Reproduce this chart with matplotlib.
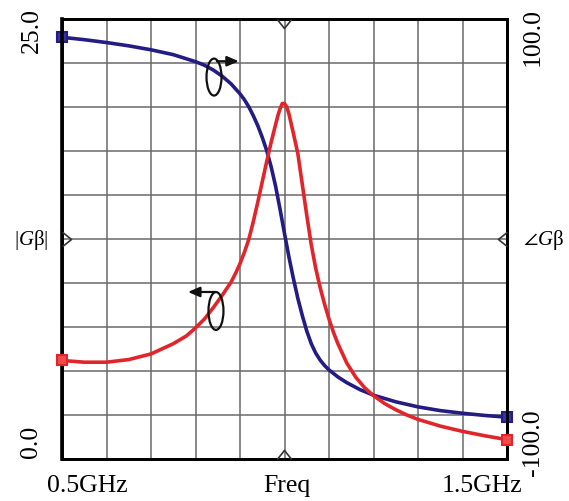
import matplotlib
matplotlib.use("Agg")
import matplotlib.pyplot as plt
from matplotlib.path import Path
from matplotlib.patches import Ellipse

plt.rcParams['font.family'] = ['Liberation Serif', 'DejaVu Serif']
plt.rcParams['mathtext.fontset'] = 'custom'
plt.rcParams['mathtext.rm'] = 'Liberation Serif'
plt.rcParams['mathtext.it'] = 'Liberation Serif:italic'

# ---- data ----
freq_mag = [0.50, 0.55, 0.60, 0.65, 0.70, 0.75, 0.78, 0.80, 0.82, 0.84, 0.86, 0.88,
            0.89, 0.90, 0.91, 0.92, 0.93, 0.94, 0.95, 0.96, 0.97, 0.98, 0.985, 0.99, 0.995,
            1.00, 1.005, 1.01, 1.02, 1.03, 1.04, 1.05, 1.06, 1.07, 1.08, 1.09, 1.10,
            1.11, 1.12, 1.14, 1.16, 1.18, 1.20, 1.225, 1.25, 1.275, 1.30, 1.35, 1.40,
            1.45, 1.50]
mag = [5.6, 5.5, 5.5, 5.65, 5.97, 6.55, 7.0, 7.45, 7.95, 8.6, 9.3, 10.05,
       10.55, 11.1, 11.75, 12.5, 13.5, 14.6, 15.75, 16.9, 18.0, 19.0, 19.5, 19.9, 20.2,
       20.2, 20.0, 19.6, 18.5, 17.35, 15.6, 13.85, 12.2, 10.85, 9.75, 8.8, 7.95,
       7.2, 6.55, 5.45, 4.65, 4.05, 3.6, 3.15, 2.8, 2.5, 2.25, 1.87, 1.57,
       1.32, 1.1]

freq_phase = [0.50, 0.55, 0.60, 0.65, 0.70, 0.75, 0.80, 0.82, 0.84, 0.86, 0.88, 0.90,
              0.91, 0.92, 0.93, 0.94, 0.95, 0.96, 0.97, 0.98, 0.99, 1.00, 1.01, 1.02,
              1.03, 1.04, 1.05, 1.06, 1.07, 1.08, 1.09, 1.10, 1.12, 1.14, 1.17, 1.20,
              1.25, 1.30, 1.35, 1.40, 1.45, 1.50]
phase = [91.7, 90.6, 89.3, 87.8, 86.0, 83.8, 80.6, 79.0, 76.8, 74.0, 70.5, 66.0,
         63.3, 60.0, 56.0, 51.5, 46.2, 40.2, 32.8, 24.0, 13.5, 2.5, -8.2, -18.0,
         -27.0, -34.8, -41.8, -47.5, -51.8, -55.0, -57.5, -59.5, -62.7, -65.3, -68.5, -71.0,
         -74.0, -76.3, -78.0, -79.2, -80.2, -81.0]

x_labels = ["0.5GHz", "Freq", "1.5GHz"]
left_labels = ["25.0", "0.0"]
right_labels = ["100.0", "-100.0"]

RED = "#e0262a"
BLUE = "#231c82"
GRID = "#6a6a6a"

fig = plt.figure(figsize=(5.69, 5.02), dpi=100)
ax2 = fig.add_axes([62/569, 42/502, 445/569, 440/502])
ax = ax2.twinx()
ax.set_zorder(ax2.get_zorder() + 1)
ax.patch.set_visible(False)

ax2.set_xlim(0.5, 1.5)
ax2.set_ylim(-100, 100)
ax.set_ylim(0, 25)
ax2.set_xticks([0.5 + 0.1 * i for i in range(11)])
ax2.set_yticks([-100 + 20 * i for i in range(11)])
ax2.grid(True, color=GRID, linewidth=1.1)
for a in (ax, ax2):
    a.tick_params(length=0, labelleft=False, labelright=False, labelbottom=False)
    for s in a.spines.values():
        s.set_linewidth(2.0)
        s.set_color("black")
ax.spines['left'].set_linewidth(2.6)
ax.set_yticks([])

# phase (blue) on right axis
ax2.plot(freq_phase, phase, color=BLUE, linewidth=2.6, solid_capstyle='round',
         solid_joinstyle='round',
         marker='s', markevery=[0, len(phase) - 1], markersize=7,
         markerfacecolor="#3a34a0", markeredgecolor=BLUE, markeredgewidth=1.5,
         clip_on=False, zorder=3)
# magnitude (red) on left axis
ax.plot(freq_mag, mag, color=RED, linewidth=2.6, solid_capstyle='round',
        solid_joinstyle='round',
        marker='s', markevery=[0, len(mag) - 1], markersize=7,
        markerfacecolor="#f04a4a", markeredgecolor=RED, markeredgewidth=1.5,
        clip_on=False, zorder=3)

# chevron markers at axis midpoints
def chevron(direction):
    base = [(0, -0.8), (1, 0), (0, 0.8)]
    if direction == 'right':
        v = base
    elif direction == 'left':
        v = [(-x, y) for x, y in base]
    elif direction == 'up':
        v = [(y, x) for x, y in base]
    else:
        v = [(y, -x) for x, y in base]
    return Path(v, [Path.MOVETO, Path.LINETO, Path.LINETO])

for pos, d in [((0, 0.5), 'right'), ((1, 0.5), 'left'), ((0.5, 0), 'up'), ((0.5, 1), 'down')]:
    ax.plot([pos[0]], [pos[1]], transform=ax.transAxes, marker=chevron(d), markersize=13,
            markerfacecolor='none', markeredgecolor='#333333', markeredgewidth=1.2,
            linestyle='none', clip_on=False, zorder=5)

# ellipse + arrow annotations
ax.add_patch(Ellipse((0.8416, 21.7), 0.0337, 2.1, fill=False, edgecolor='#111111',
                     linewidth=1.6, zorder=6))
ax.annotate("", xy=(0.8975, 22.6), xytext=(0.848, 22.6),
            arrowprops=dict(arrowstyle='-|>,head_length=0.7,head_width=0.3',
                            color='#111111', linewidth=1.6, shrinkA=0, shrinkB=0), zorder=6)
ax.add_patch(Ellipse((0.846, 8.41), 0.0337, 2.15, fill=False, edgecolor='#111111',
                     linewidth=1.6, zorder=6))
ax.annotate("", xy=(0.783, 9.49), xytext=(0.845, 9.49),
            arrowprops=dict(arrowstyle='-|>,head_length=0.7,head_width=0.3',
                            color='#111111', linewidth=1.6, shrinkA=0, shrinkB=0), zorder=6)

# tick labels as text
fs = 18.5
tr = ax.transAxes
ax.text(0.058, -0.0727, x_labels[0], transform=tr, ha='center', va='baseline', fontsize=fs)
ax.text(0.505, -0.0727, x_labels[1], transform=tr, ha='center', va='baseline', fontsize=fs)
ax.text(0.943, -0.0727, x_labels[2], transform=tr, ha='center', va='baseline', fontsize=fs)
ax.text(-0.067, 0.977, left_labels[0], transform=tr, ha='center', va='center', rotation=90, fontsize=fs)
ax.text(-0.070, 0.041, left_labels[1], transform=tr, ha='center', va='center', rotation=90, fontsize=fs)
ax.text(1.058, 0.961, right_labels[0], transform=tr, ha='center', va='center', rotation=90, fontsize=fs)
ax.text(1.058, 0.039, right_labels[1], transform=tr, ha='center', va='center', rotation=90, fontsize=fs)

ax.text(-0.07, 0.5, r'$|G\mathrm{β}|$', transform=tr, ha='center', va='center', fontsize=15)
ax.text(1.083, 0.5, r'$\angle G\mathrm{β}$', transform=tr, ha='center', va='center', fontsize=15)

fig.savefig("out.png", dpi=100)
